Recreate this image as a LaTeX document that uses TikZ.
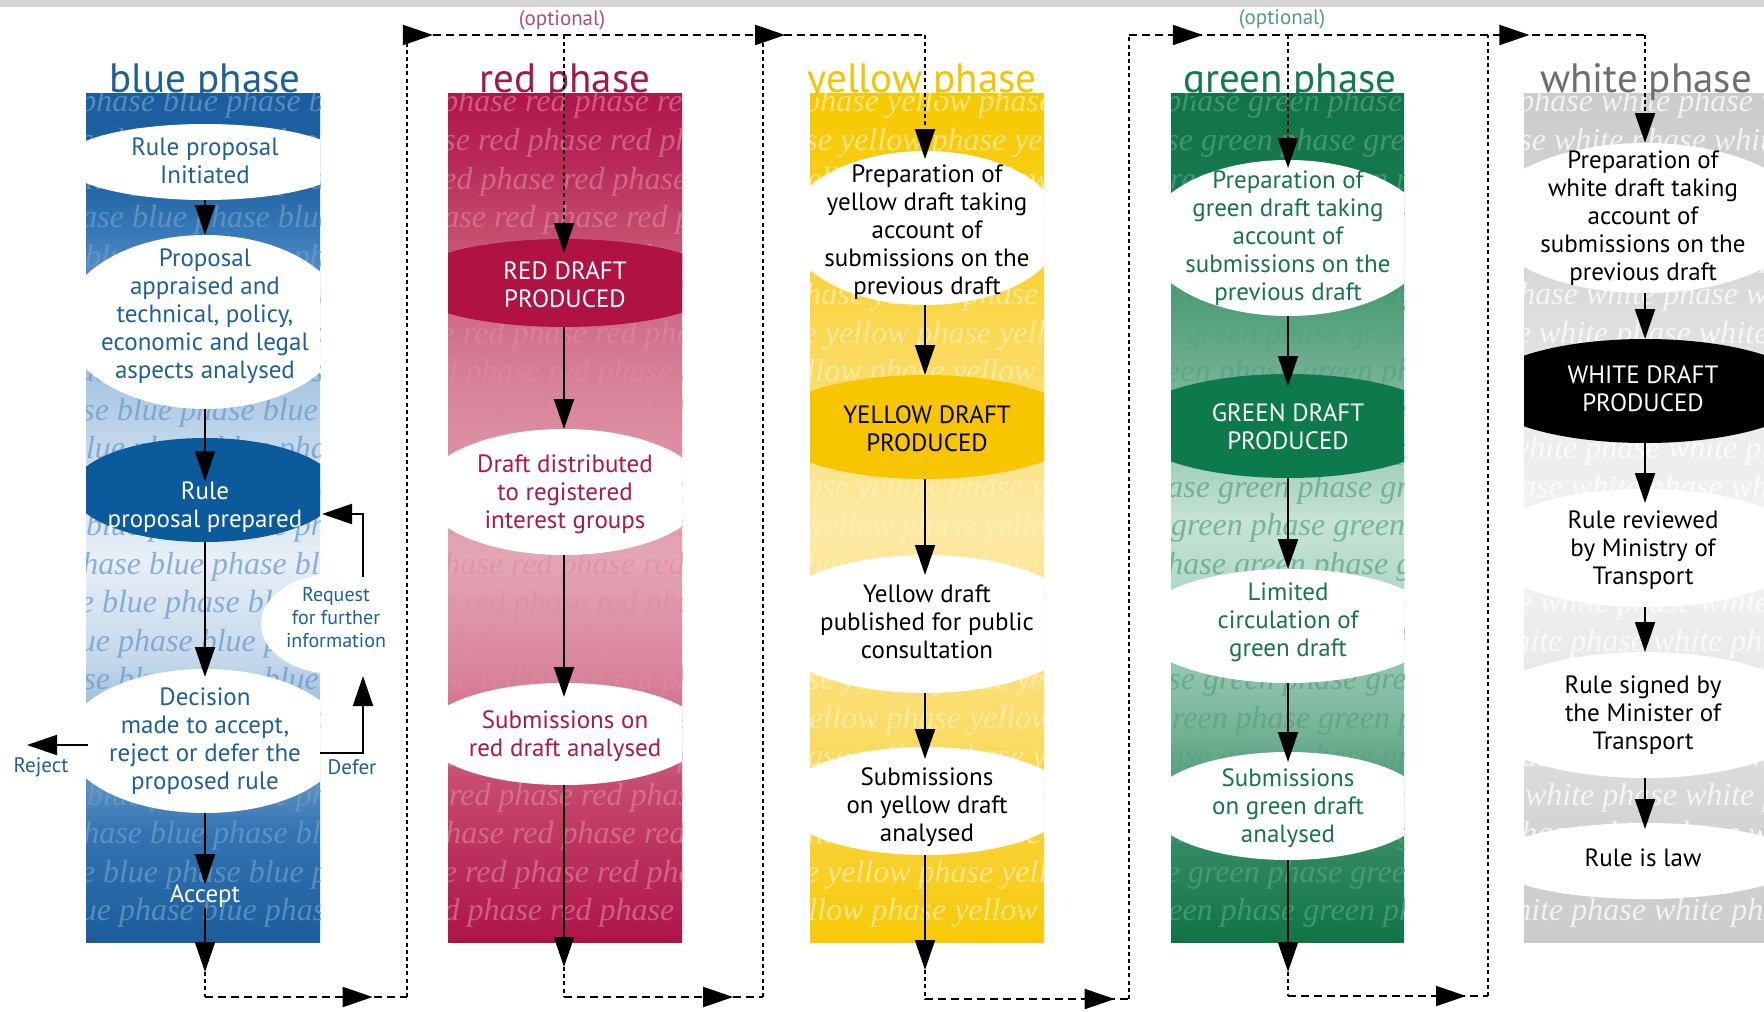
\documentclass[tikz,border=0pt]{standalone}
\usepackage{fontspec}
\setmainfont{PT Sans}
\newfontfamily\wmfont{Liberation Serif}
\usetikzlibrary{arrows.meta,shapes.geometric,decorations.markings,calc}

\definecolor{blueT}{HTML}{1F6099}
\definecolor{redT}{HTML}{A8194C}
\definecolor{greenT}{HTML}{17744B}
\definecolor{blueD}{HTML}{0B5A9C}
\definecolor{redD}{HTML}{B01343}
\definecolor{yelD}{HTML}{F7C600}
\definecolor{greenD}{HTML}{0C7A4B}
\definecolor{ttlBlue}{HTML}{1D5F99}
\definecolor{ttlRed}{HTML}{A3174B}
\definecolor{ttlYel}{HTML}{F2C500}
\definecolor{ttlGreen}{HTML}{137A4B}
\definecolor{ttlWhite}{HTML}{6E6E6E}
\definecolor{optRed}{HTML}{A8507A}
\definecolor{optGreen}{HTML}{4E9E84}
\definecolor{stripGray}{HTML}{D6D6D6}
\definecolor{wmBlue}{HTML}{6A9BCB}
\definecolor{wmRed}{HTML}{E08AA2}
\definecolor{wmYel}{HTML}{FFF1B8}
\definecolor{wmGreen}{HTML}{56A282}

\definecolor{bsA}{HTML}{1B5C9C}\definecolor{bsB}{HTML}{3474B3}\definecolor{bsC}{HTML}{6F9FCD}
\definecolor{bsD}{HTML}{C4D8EA}\definecolor{bsE}{HTML}{E8EFF7}\definecolor{bsF}{HTML}{C6D9EC}
\definecolor{bsG}{HTML}{A8C6E2}\definecolor{bsH}{HTML}{6B9DCC}\definecolor{bsI}{HTML}{3B7CBA}
\definecolor{bsJ}{HTML}{1F63A3}\definecolor{bsK}{HTML}{1B5D9E}
\pgfdeclareverticalshading{shBlue}{100bp}{color(0bp)=(bsA); color(25bp)=(bsA); color(31.6bp)=(bsB); color(35.7bp)=(bsC); color(41.6bp)=(bsD); color(47.5bp)=(bsE); color(54bp)=(bsF); color(58.1bp)=(bsG); color(62.9bp)=(bsH); color(66.4bp)=(bsI); color(69.9bp)=(bsJ); color(75bp)=(bsK); color(100bp)=(bsK)}

\definecolor{rsA}{HTML}{AE1448}\definecolor{rsB}{HTML}{C4436A}\definecolor{rsC}{HTML}{D8809A}
\definecolor{rsD}{HTML}{E4A6B5}\definecolor{rsE}{HTML}{DB8EA2}\definecolor{rsF}{HTML}{D47892}
\definecolor{rsG}{HTML}{C65070}\definecolor{rsH}{HTML}{B82858}\definecolor{rsI}{HTML}{B0164A}
\pgfdeclareverticalshading{shRed}{100bp}{color(0bp)=(rsA); color(25bp)=(rsA); color(33.4bp)=(rsB); color(40.5bp)=(rsC); color(47.5bp)=(rsD); color(54.6bp)=(rsE); color(59.9bp)=(rsF); color(66.4bp)=(rsG); color(71.1bp)=(rsH); color(75bp)=(rsI); color(100bp)=(rsI)}

\definecolor{ysA}{HTML}{F7C905}\definecolor{ysB}{HTML}{F8D12E}\definecolor{ysC}{HTML}{FADB62}
\definecolor{ysD}{HTML}{FBE48E}\definecolor{ysE}{HTML}{FCE9A4}\definecolor{ysF}{HTML}{FAD852}
\definecolor{ysG}{HTML}{F8CD1A}\definecolor{ysH}{HTML}{F7C900}
\pgfdeclareverticalshading{shYel}{100bp}{color(0bp)=(ysA); color(25bp)=(ysA); color(30.4bp)=(ysB); color(36.9bp)=(ysC); color(44bp)=(ysD); color(49.9bp)=(ysE); color(61.1bp)=(ysF); color(68.8bp)=(ysG); color(75bp)=(ysH); color(100bp)=(ysH)}

\definecolor{gsA}{HTML}{0F7446}\definecolor{gsB}{HTML}{3C9069}\definecolor{gsC}{HTML}{7AB69B}
\definecolor{gsD}{HTML}{A9D3C0}\definecolor{gsE}{HTML}{C6E3D6}\definecolor{gsF}{HTML}{7DB79C}
\definecolor{gsG}{HTML}{4E9C78}\definecolor{gsH}{HTML}{177A4E}\definecolor{gsI}{HTML}{117447}
\pgfdeclareverticalshading{shGreen}{100bp}{color(0bp)=(gsA); color(25bp)=(gsA); color(32.2bp)=(gsB); color(38.1bp)=(gsC); color(44bp)=(gsD); color(49.9bp)=(gsE); color(57bp)=(gsF); color(62.9bp)=(gsG); color(68.8bp)=(gsH); color(75bp)=(gsI); color(100bp)=(gsI)}

\definecolor{wsA}{HTML}{CBCBCB}\definecolor{wsB}{HTML}{D4D4D4}\definecolor{wsC}{HTML}{E6E6E6}
\definecolor{wsD}{HTML}{F3F3F3}\definecolor{wsE}{HTML}{ECECEC}\definecolor{wsF}{HTML}{D5D5D5}
\definecolor{wsG}{HTML}{CCCCCC}
\pgfdeclareverticalshading{shWhite}{100bp}{color(0bp)=(wsA); color(25bp)=(wsA); color(32.2bp)=(wsB); color(39.3bp)=(wsC); color(47.5bp)=(wsD); color(55.2bp)=(wsE); color(65.8bp)=(wsF); color(75bp)=(wsG); color(100bp)=(wsG)}

\newcommand\wmcol[4]{%
  \foreach \k in {0,...,21}{%
    \pgfmathsetmacro\yy{112+38.5*\k}%
    \pgfmathsetmacro\xx{#1-mod(\k*47,110)-6}%
    \node[wm, text=#3, text opacity=#4] (wm#2\k) at (\xx,\yy) {phase #2 phase #2 phase #2 phase};
  }}

\begin{document}
\begin{tikzpicture}[x=0.5pt,y=-0.5pt,
  stage/.style={ellipse, inner sep=0pt, outer sep=0pt},
  txt/.style={align=center, inner sep=0pt, font=\fontsize{12.5}{14}\selectfont},
  smalltxt/.style={align=center, inner sep=0pt, font=\fontsize{10}{11.5}\selectfont},
  ttl/.style={anchor=base, inner sep=0pt, font=\fontsize{20.5}{21}\selectfont},
  wm/.style={anchor=base west, inner sep=0pt, font=\wmfont\itshape\fontsize{16}{16}\selectfont},
  arr/.style={line width=1pt, -{Triangle[length=15pt,width=10pt]}},
  into/.style={shorten >=-#1},
  dsh/.style={line width=1pt, dash pattern=on 4pt off 2.5pt},
  dotv/.style={line width=0.9pt, dash pattern=on 2pt off 1.6pt},
  midarrow/.style={postaction={decorate, decoration={markings, mark=at position #1 with {\arrow{Triangle[length=15pt,width=10pt]}}}}}
]
\useasboundingbox (0,0) rectangle (1764,1011);
\fill[white] (0,0) rectangle (1764,1011);
\fill[stripGray] (0,0) rectangle (1764,7);

% ---------------- blue column
\begin{scope}
  \clip (86,94) rectangle (320,942);
  \shade[shading=shBlue] (86,94) rectangle (320,942);
  \wmcol{86}{blue}{wmBlue}{0.75}
  \node[stage, fill=white, minimum width=143pt, minimum height=38pt] (b1) at (205,162) {};
  \node[stage, fill=white, minimum width=141pt, minimum height=87pt] (b2) at (205,322) {};
  \node[stage, fill=blueD, minimum width=133pt, minimum height=52pt] (b3) at (205,490) {};
  \node[stage, fill=white, minimum width=139pt, minimum height=72pt] (dec) at (205,741) {};
\end{scope}
% ---------------- red column
\begin{scope}
  \clip (448,94) rectangle (682,942);
  \shade[shading=shRed] (448,94) rectangle (682,942);
  \wmcol{448}{red}{wmRed}{0.6}
  \node[stage, fill=redD, minimum width=160pt, minimum height=44pt] (r1) at (564,283) {};
  \node[stage, fill=white, minimum width=141pt, minimum height=63pt] (r2) at (564,492) {};
  \node[stage, fill=white, minimum width=140pt, minimum height=51pt] (r3) at (564,734) {};
\end{scope}
% ---------------- yellow column
\begin{scope}
  \clip (810,94) rectangle (1044,942);
  \shade[shading=shYel] (810,94) rectangle (1044,942);
  \wmcol{810}{yellow}{wmYel}{0.7}
  \node[stage, fill=white, minimum width=137pt, minimum height=77pt] (y1) at (925,228) {};
  \node[stage, fill=yelD, minimum width=158pt, minimum height=52pt] (y2) at (925,427) {};
  \node[stage, fill=white, minimum width=160pt, minimum height=69pt] (y3) at (925,624) {};
  \node[stage, fill=white, minimum width=145pt, minimum height=54pt] (y4) at (925,801) {};
\end{scope}
% ---------------- green column
\begin{scope}
  \clip (1171,94) rectangle (1404,942);
  \shade[shading=shGreen] (1171,94) rectangle (1404,942);
  \wmcol{1171}{green}{wmGreen}{0.7}
  \node[stage, fill=white, minimum width=143pt, minimum height=78pt] (g1) at (1288,238) {};
  \node[stage, fill=greenD, minimum width=160pt, minimum height=52pt] (g2) at (1288,426) {};
  \node[stage, fill=white, minimum width=151pt, minimum height=57pt] (g3) at (1288,626) {};
  \node[stage, fill=white, minimum width=139pt, minimum height=54pt] (g4) at (1288,806) {};
\end{scope}
% ---------------- white column
\begin{scope}
  \clip (1524,94) rectangle (1764,942);
  \shade[shading=shWhite] (1524,94) rectangle (1764,942);
  \wmcol{1524}{white}{white}{0.75}
  \node[stage, fill=white, minimum width=160pt, minimum height=75pt] (w1) at (1645,218) {};
  \node[stage, fill=black, minimum width=165pt, minimum height=52pt] (w2) at (1645,391) {};
  \node[stage, fill=white, minimum width=163pt, minimum height=59pt] (w3) at (1645,548) {};
  \node[stage, fill=white, minimum width=170pt, minimum height=63pt] (w4) at (1645,715) {};
  \node[stage, fill=white, minimum width=155pt, minimum height=38pt] (w5) at (1645,861) {};
\end{scope}

% request bubble (outside the column clip)
\node[stage, fill=white, minimum width=74pt, minimum height=50pt] (req) at (335,624) {};

% ---------------- titles
\node[ttl, text=ttlBlue] (tb) at (205,92) {blue phase};
\node[ttl, text=ttlRed] (tr) at (565,92) {red phase};
\node[ttl, text=ttlYel] (ty) at (922,92) {yellow phase};
\node[ttl, text=ttlGreen] (tg) at (1290,92) {green phase};
\node[ttl, text=ttlWhite] (tw) at (1646,92) {white phase};

% ---------------- texts
\node[txt, text=blueT] (b1t) at (205,161) {Rule proposal\\Initiated};
\node[txt, text=blueT] (b2t) at (205,316) {Proposal\\appraised and\\technical, policy,\\economic and legal\\aspects analysed};
\node[txt, text=white] (b3t) at (205,507) {Rule\\proposal prepared};
\node[txt, text=blueT] (dect) at (205,741) {Decision\\made to accept,\\reject or defer the\\proposed rule};
\node[smalltxt, text=blueT] (reqt) at (336,618) {Request\\for further\\information};
\node[txt, text=white] (acct) at (205,896) {Accept};
\node[smalltxt, text=blueT, font=\fontsize{10.5}{12}\selectfont] (rejt) at (41,767) {Reject};
\node[smalltxt, text=blueT, font=\fontsize{10.5}{12}\selectfont] (deft) at (352,767) {Defer};

\node[txt, text=white] (r1t) at (565,285) {RED DRAFT\\PRODUCED};
\node[txt, text=redT] (r2t) at (565,494) {Draft distributed\\to registered\\interest groups};
\node[txt, text=redT] (r3t) at (565,736) {Submissions on\\red draft analysed};

\node[txt, text=black] (y1t) at (927,232) {Preparation of\\yellow draft taking\\account of\\submissions on the\\previous draft};
\node[txt, text=black] (y2t) at (927,429) {YELLOW DRAFT\\PRODUCED};
\node[txt, text=black] (y3t) at (927,622) {Yellow draft\\published for public\\consultation};
\node[txt, text=black] (y4t) at (927,807) {Submissions\\on yellow draft\\analysed};

\node[txt, text=greenT] (g1t) at (1288,238) {Preparation of\\green draft taking\\account of\\submissions on the\\previous draft};
\node[txt, text=white] (g2t) at (1288,427) {GREEN DRAFT\\PRODUCED};
\node[txt, text=greenT] (g3t) at (1288,622) {Limited\\circulation of\\green draft};
\node[txt, text=greenT] (g4t) at (1288,808) {Submissions\\on green draft\\analysed};

\node[txt, text=black] (w1t) at (1643,218) {Preparation of\\white draft taking\\account of\\submissions on the\\previous draft};
\node[txt, text=white] (w2t) at (1643,389) {WHITE DRAFT\\PRODUCED};
\node[txt, text=black] (w3t) at (1643,550) {Rule reviewed\\by Ministry of\\Transport};
\node[txt, text=black] (w4t) at (1643,715) {Rule signed by\\the Minister of\\Transport};
\node[txt, text=black] (w5t) at (1643,858) {Rule is law};

\node[smalltxt, text=optRed, font=\fontsize{10.5}{12}\selectfont] (opt1) at (562,20) {(optional)};
\node[smalltxt, text=optGreen, font=\fontsize{10.5}{12}\selectfont] (opt2) at (1282,19) {(optional)};

% ---------------- coordinates of the dashed routes
\coordinate (bout) at (205,972);
\coordinate (bc1) at (205,997);
\coordinate (bc2) at (407,997);
\coordinate (tl1) at (407,35);
\coordinate (tr1) at (925,35);
\coordinate (ropt) at (564,35);
\coordinate (rout) at (564,967);
\coordinate (rc1) at (564,997);
\coordinate (rc2) at (763,997);
\coordinate (rc3) at (763,35);
\coordinate (yout) at (925,970);
\coordinate (yc1) at (925,999);
\coordinate (yc2) at (1129,999);
\coordinate (tl2) at (1129,35);
\coordinate (tr2) at (1645,35);
\coordinate (gopt) at (1288,35);
\coordinate (gout) at (1288,972);
\coordinate (gc1) at (1288,996);
\coordinate (gc2) at (1488,996);
\coordinate (gc3) at (1488,35);
\coordinate (rejS) at (88,745);
\coordinate (rejE) at (27,745);
\coordinate (defS) at (320,753);
\coordinate (defT) at (363,676);
\coordinate (reqS) at (363,577);
\coordinate (reqE) at (322,514);

% ---------------- blue arrows
\draw[arr] (b1.south) -- (b2.north);
\draw[arr] (b2.south) -- (b3t.north);
\draw[arr, into=4pt] (b3.south) -- (dec.north);
\draw[arr] (dec.south) -- (acct.north);
\draw[arr] (acct.south) -- (bout);
\draw[arr] (rejS) -- (rejE);
\draw[arr] (defS) -| (defT);
\draw[arr] (reqS) |- (reqE);

% ---------------- red arrows
\draw[dotv, arr, into=7pt] (ropt) -- (r1.north);
\draw[arr] (r1.south) -- (r2.north);
\draw[arr, into=7pt] (r2.south) -- (r3.north);
\draw[arr] (r3.south) -- (rout);

% ---------------- yellow arrows
\draw[dotv, arr, into=4pt] (tr1) -- (y1.north);
\draw[arr] (y1.south) -- (y2.north);
\draw[arr, into=10pt] (y2.south) -- (y3.north);
\draw[arr, into=6pt] (y3.south) -- (y4.north);
\draw[arr] (y4.south) -- (yout);

% ---------------- green arrows
\draw[dotv, arr, into=4pt] (gopt) -- (g1.north);
\draw[arr, into=6pt] (g1.south) -- (g2.north);
\draw[arr] (g2.south) -- (g3.north);
\draw[arr, into=5pt] (g3.south) -- (g4.north);
\draw[arr] (g4.south) -- (gout);

% ---------------- white arrows
\draw[dotv, arr] (tr2) -- (w1.north);
\draw[arr] (w1.south) -- (w2.north);
\draw[arr, into=7pt] (w2.south) -- (w3.north);
\draw[arr] (w3.south) -- (w4.north);
\draw[arr, into=3pt] (w4.south) -- (w5.north);

% ---------------- dashed routes between phases
\draw[dotv] (bout) -- (bc1);
\draw[dsh, midarrow=0.83] (bc1) -- (bc2);
\draw[dotv] (bc2) -- (tl1);
\draw[dsh, midarrow=0.05, midarrow=0.73] (tl1) -- (tr1);

\draw[dotv] (rout) -- (rc1);
\draw[dsh, midarrow=0.85] (rc1) -- (rc2);
\draw[dotv] (rc2) -- (rc3);

\draw[dotv] (yout) -- (yc1);
\draw[dsh, midarrow=0.93] (yc1) -- (yc2);
\draw[dotv] (yc2) -- (tl2);
\draw[dsh, midarrow=0.143, midarrow=0.776] (tl2) -- (tr2);

\draw[dotv] (gout) -- (gc1);
\draw[dsh, midarrow=0.89] (gc1) -- (gc2);
\draw[dotv] (gc2) -- (gc3);
\end{tikzpicture}
\end{document}
